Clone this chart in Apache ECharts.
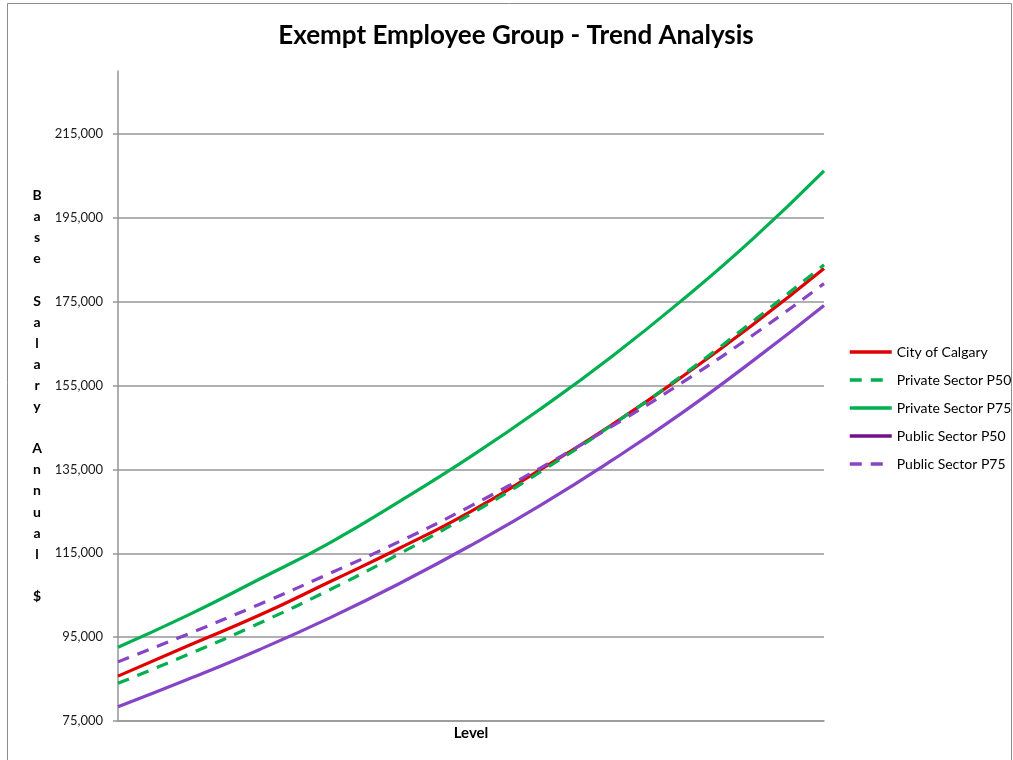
<!DOCTYPE html>
<html>
<head>
<meta charset="utf-8">
<script src="https://cdn.jsdelivr.net/npm/echarts@6/dist/echarts.min.js"></script>
<style>
html,body{margin:0;padding:0;background:#fff;}
#chart{width:1013px;height:760px;}
</style>
</head>
<body>
<div id="chart"></div>
<script>
const levels = ['1','2','3','4','5','6','7','8','9','10','11'];
const cityOfCalgary   = [85700, 93000, 100200, 108200, 116300, 125000, 135100, 145700, 157200, 169600, 182900];
const privateP50      = [84000, 90900, 98300, 106300, 115000, 124400, 134600, 145600, 157500, 170400, 183800];
const privateP75      = [92600, 100300, 108800, 117500, 127500, 138100, 149600, 162000, 175500, 190100, 206200];
const publicP50       = [78400, 85000, 92000, 99600, 107900, 116900, 126600, 137200, 148600, 161000, 174100];
const publicP75       = [89100, 95800, 102800, 110200, 117900, 126300, 135500, 145300, 155800, 167100, 179300];
const seriesNames = ['City of Calgary','Private Sector P50','Private Sector P75','Public Sector P50','Public Sector P75'];
const yTitle = 'Base Salary Annual $';

const FONT = 'Lato, "Liberation Sans", sans-serif';
const RED = '#E00000', GREEN = '#00B050', PURPLE = '#8645C6', DARKPURPLE = '#730E8C';

function mk(name, data, color, dashed) {
  return {
    name: name, type: 'line', data: data, smooth: true, symbol: 'none',
    lineStyle: { color: color, width: 3.2, type: dashed ? [12, 9] : 'solid' },
    itemStyle: { color: color }
  };
}

const chart = echarts.init(document.getElementById('chart'), null, { renderer: 'canvas' });
chart.setOption({
  animation: false,
  backgroundColor: '#fff',
  title: {
    text: 'Exempt Employee Group - Trend Analysis',
    left: 511, top: 18, textAlign: 'center',
    textStyle: { fontFamily: FONT, fontSize: 26, fontWeight: 'bold', color: '#000' }
  },
  graphic: [{
    type: 'rect', left: 5, top: 1, silent: true,
    shape: { width: 1004, height: 800 },
    style: { fill: 'none', stroke: '#8c8c8c', lineWidth: 1 }
  }],
  legend: {
    orient: 'vertical', left: 843, top: 340, itemWidth: 42, itemHeight: 14, itemGap: 14,
    itemStyle: { opacity: 0 },
    lineStyle: { width: 3.5 },
    textStyle: { fontFamily: FONT, fontSize: 14, color: '#000' },
    data: [
      { name: seriesNames[0] },
      { name: seriesNames[1] },
      { name: seriesNames[2] },
      { name: seriesNames[3], lineStyle: { color: DARKPURPLE, width: 3.5 } },
      { name: seriesNames[4] }
    ]
  },
  grid: { left: 118, right: 189, top: 71, bottom: 39 },
  xAxis: {
    type: 'category', data: levels, boundaryGap: false,
    name: 'Level', nameLocation: 'middle', nameGap: 5,
    nameTextStyle: { fontFamily: FONT, fontSize: 15, fontWeight: 'bold', color: '#000', verticalAlign: 'top' },
    axisLine: { lineStyle: { color: '#969696', width: 1.5 } },
    axisTick: { show: false }, axisLabel: { show: false }, splitLine: { show: false }
  },
  yAxis: {
    type: 'value', min: 75000, max: 230000, interval: 20000,
    name: yTitle.split('').map(c => c === ' ' ? '' : c).join('\n'),
    nameLocation: 'middle', nameRotate: 0, nameGap: 81,
    nameTextStyle: { fontFamily: FONT, fontSize: 14, fontWeight: 'bold', color: '#000', lineHeight: 21.1, align: 'center' },
    axisLine: { show: true, lineStyle: { color: '#969696', width: 1.5 } },
    axisTick: { show: true, inside: false, length: 5, lineStyle: { color: '#969696', width: 1.5 } },
    axisLabel: {
      fontFamily: FONT, fontSize: 13, color: '#1a1a1a', margin: 15, showMaxLabel: false,
      formatter: v => v.toLocaleString('en-US')
    },
    splitLine: { show: true, showMaxLine: false, lineStyle: { color: '#969696', width: 1.5 } }
  },
  series: [
    mk(seriesNames[0], cityOfCalgary, RED, false),
    mk(seriesNames[1], privateP50, GREEN, true),
    mk(seriesNames[2], privateP75, GREEN, false),
    mk(seriesNames[3], publicP50, PURPLE, false),
    mk(seriesNames[4], publicP75, PURPLE, true)
  ]
});
</script>
</body>
</html>
